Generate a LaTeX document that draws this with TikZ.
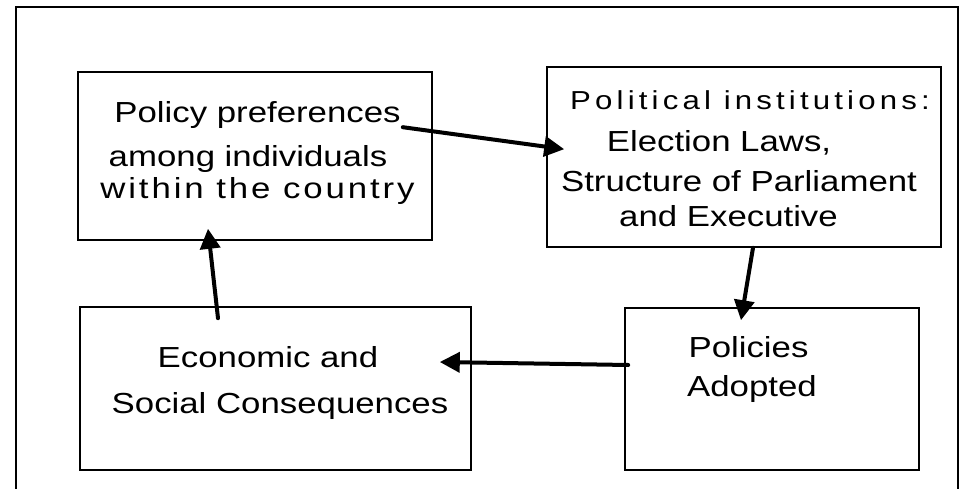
\documentclass[tikz,border=0pt]{standalone}
\usepackage{fontspec}
\setmainfont[FakeStretch=1.2]{Liberation Sans}
\newfontfamily\widefont[FakeStretch=1.2,LetterSpace=10]{Liberation Sans}
\newfontfamily\widerfont[FakeStretch=1.2,LetterSpace=16]{Liberation Sans}
\usetikzlibrary{arrows.meta,calc}
\tikzset{
	stagebox/.style={draw, line width=1.6pt, inner sep=0pt},
	boxline/.style={anchor=base, inner sep=0pt, font=\fontsize{29}{34}\selectfont},
	flow/.style={line width=4pt, line cap=round, -{Triangle[length=20pt,width=20pt]}}
}
\begin{document}
\begin{tikzpicture}[x=1pt, y=-1pt]
		\useasboundingbox (0,0) rectangle (964,489);
		%outer frame
		\draw[line width=1.6pt] (16,489) -- (16,7) -- (958,7) -- (958,489);
		
		%boxes
		\node (prefs) at (255,156) [stagebox, minimum width=354pt, minimum height=168pt]{};
		\node (inst) at (744,157) [stagebox, minimum width=394pt, minimum height=180pt]{};
		\node (conseq) at (275.5,388.5) [stagebox, minimum width=391pt, minimum height=163pt]{};
		\node (adopted) at (772,389) [stagebox, minimum width=294pt, minimum height=162pt]{};
		
		%box texts
		\node (prefsA) at (257.5,123) [boxline]{Policy preferences};
		\node (prefsB) at (248,167) [boxline]{among individuals};
		\node (prefsC) at (257.5,199) [boxline]{\widefont within the country};
		\node (instA) at (750,110) [boxline, font=\fontsize{26}{30}\selectfont]{\widerfont Political institutions:};
		\node (instB) at (719,152) [boxline]{Election Laws,};
		\node (instC) at (739,192) [boxline]{Structure of Parliament};
		\node (instD) at (728.5,227) [boxline]{and Executive};
		\node (conseqA) at (268,367) [boxline]{Economic and};
		\node (conseqB) at (280,413) [boxline]{Social Consequences};
		\node (adoptedA) at (748.5,357) [boxline]{Policies};
		\node (adoptedB) at (752,396) [boxline]{Adopted};
		
		%arrows
		\draw[flow] ($(prefs.north east)+(-30,56)$) -- ($(inst.north west)+(18,83)$);
		\draw[flow] ($(inst.south)+(9,0)$) -- ($(adopted.north)+(-31,13)$);
		\draw[flow] ($(adopted.west)+(4,-24)$) -- ($(conseq.east)+(-32,-26.5)$);
		\draw[flow] ($(conseq.north)+(-57.5,12)$) -- ($(prefs.south)+(-47,-12)$);
\end{tikzpicture}
\end{document}
